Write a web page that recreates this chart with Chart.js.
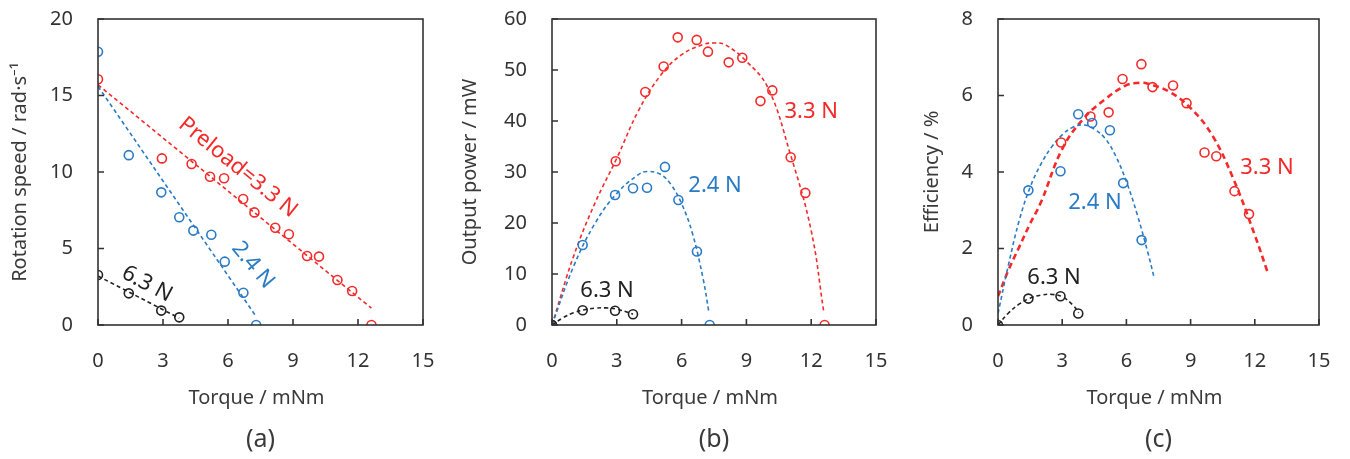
<!DOCTYPE html>
<html lang="en">
<head>
<meta charset="UTF-8">
<title>Torque characteristics</title>
<script src="https://cdn.jsdelivr.net/npm/chart.js"></script>
<style>
  body { margin: 0; background: #fff; }
  #wrap { position: relative; width: 1350px; height: 459px; }
  canvas { position: absolute; top: 0; }
</style>
</head>
<body>
<div id="wrap">
  <canvas id="chartA" width="450" height="459" style="left:0"></canvas>
  <canvas id="chartB" width="450" height="459" style="left:450px"></canvas>
  <canvas id="chartC" width="450" height="459" style="left:900px"></canvas>
</div>
<script>
// measured points (torque in mNm)
const torque33 = [0, 2.95, 4.32, 5.17, 5.82, 6.70, 7.22, 8.18, 8.81, 9.65, 10.2, 11.05, 11.73, 12.62];
const speed33  = [16.06, 10.89, 10.52, 9.69, 9.59, 8.24, 7.36, 6.36, 5.93, 4.51, 4.47, 2.94, 2.22, 0];
const power33  = [0, 32.1, 45.7, 50.7, 56.4, 55.9, 53.6, 51.5, 52.4, 43.9, 46.0, 32.9, 25.9, 0];
const eff33    = [null, 4.77, 5.45, 5.56, 6.43, 6.82, 6.22, 6.26, 5.8, 4.51, 4.41, 3.5, 2.9, null];

const torque24 = [0, 1.42, 2.92, 3.75, 4.40, 5.23, 5.85, 6.71, 7.30];
const speed24  = [17.86, 11.1, 8.67, 7.04, 6.17, 5.90, 4.14, 2.11, 0];
const power24  = [0, 15.7, 25.5, 26.8, 26.9, 31.0, 24.5, 14.4, 0];
const eff24    = [null, 3.52, 4.02, 5.51, 5.28, 5.09, 3.71, 2.22, null];

const torque63 = [0, 1.42, 2.92, 3.75];
const speed63  = [3.27, 2.07, 0.94, 0.50];
const power63  = [0, 2.9, 2.8, 2.1];
const eff63    = [0, 0.69, 0.75, 0.30];

// fitted curves
const fitSpeedX33 = [0, 12.62];
const fitSpeed33  = [15.7, 1.1];
const fitSpeedX24 = [0, 7.3];
const fitSpeed24  = [15.6, 0.55];
const fitSpeedX63 = [0, 3.75];
const fitSpeed63  = [3.2, 0.45];

const fitPowerX33 = [0, 1, 2, 3, 4, 5, 6, 7, 7.5, 8, 9, 10, 11, 12, 12.58];
const fitPower33  = [0, 13.5, 24, 32.7, 42, 48.8, 53, 55, 55.3, 55, 51.7, 46.5, 34, 18.5, 2.6];
const fitPowerX24 = [0, 1, 2, 3, 4, 4.4, 5, 5.5, 6, 6.5, 7, 7.26];
const fitPower24  = [0, 11.5, 20, 25.8, 29.5, 30.1, 29.6, 27.6, 23.8, 18, 9, 2.6];
const fitPowerX63 = [0, 0.5, 1, 1.5, 2, 2.5, 3, 3.5, 3.75];
const fitPower63  = [0, 1.4, 2.4, 3.0, 3.3, 3.35, 3.1, 2.5, 2.1];

const fitEffX33 = [0, 0.5, 1, 1.5, 2, 3, 4, 5, 6, 6.6, 7, 8, 9, 10, 11, 12, 12.58];
const fitEff33  = [0.75, 1.45, 2.05, 2.65, 3.2, 4.6, 5.4, 5.9, 6.27, 6.33, 6.31, 6.1, 5.67, 4.97, 3.82, 2.35, 1.41];
const fitEffX24 = [0, 0.5, 1, 1.5, 2, 2.5, 3, 3.5, 4, 4.5, 5, 5.5, 6, 6.5, 7, 7.3];
const fitEff24  = [0.3, 1.6, 2.75, 3.6, 4.2, 4.65, 4.97, 5.17, 5.23, 5.12, 4.88, 4.42, 3.75, 2.9, 1.9, 1.23];
const fitEffX63 = [0, 0.5, 1, 1.5, 2, 2.5, 3, 3.5, 3.77];
const fitEff63  = [0, 0.32, 0.55, 0.7, 0.78, 0.8, 0.74, 0.52, 0.32];

const torqueTicks = [0, 3, 6, 9, 12, 15];

const RED = '#f42a2a';
const BLUE = '#2a7bc6';
const BLACK = '#222222';
const AXIS = '#333333';

Chart.defaults.font.family = "'Noto Sans', sans-serif";

function pts(xs, ys) {
    return xs.map((x, i) => ({ x: x, y: ys[i] })).filter(p => p.y !== null);
}

function markers(xs, ys, color) {
    return {
        data: pts(xs, ys),
        showLine: false,
        pointStyle: 'circle',
        pointRadius: 4.5,
        pointBorderWidth: 1.6,
        pointBorderColor: color,
        pointBackgroundColor: 'rgba(0,0,0,0)'
    };
}

function fit(xs, ys, color, width, dash) {
    return {
        data: pts(xs, ys),
        showLine: true,
        pointRadius: 0,
        borderColor: color,
        borderWidth: width || 1.6,
        borderDash: dash || [4, 3],
        tension: 0.4,
        fill: false
    };
}

// box, inward ticks, titles and labels
const framePlugin = {
    id: 'frame',
    afterDraw(chart, args, opts) {
        const ctx = chart.ctx;
        const a = chart.chartArea;
        const xs = chart.scales.x, ys = chart.scales.y;
        ctx.save();
        ctx.strokeStyle = AXIS;
        ctx.lineWidth = 1.6;
        ctx.strokeRect(a.left, a.top, a.right - a.left, a.bottom - a.top);
        ctx.beginPath();
        xs.ticks.forEach(t => {
            const px = xs.getPixelForValue(t.value);
            ctx.moveTo(px, a.bottom);
            ctx.lineTo(px, a.bottom - 6);
        });
        ys.ticks.forEach(t => {
            const py = ys.getPixelForValue(t.value);
            ctx.moveTo(a.left, py);
            ctx.lineTo(a.left + 6, py);
        });
        ctx.stroke();

        ctx.fillStyle = '#3a3a3a';
        ctx.textAlign = 'center';
        ctx.textBaseline = 'middle';
        ctx.font = "20px 'Noto Sans', sans-serif";
        ctx.fillText(opts.xTitle, (a.left + a.right) / 2 - 4, 398);
        ctx.font = "25px 'Noto Sans', sans-serif";
        ctx.fillText(opts.panel, (a.left + a.right) / 2, 440);

        ctx.save();
        ctx.translate(opts.yTitleX, (a.top + a.bottom) / 2);
        ctx.rotate(-Math.PI / 2);
        ctx.font = "20px 'Noto Sans', sans-serif";
        ctx.fillText(opts.yTitle, 0, 0);
        ctx.restore();

        ctx.font = "22px 'Noto Sans', sans-serif";
        opts.notes.forEach(n => {
            ctx.save();
            ctx.translate(xs.getPixelForValue(n.x), ys.getPixelForValue(n.y));
            ctx.rotate((n.angle || 0) * Math.PI / 180);
            ctx.fillStyle = n.color;
            ctx.fillText(n.text, 0, 0);
            ctx.restore();
        });
        ctx.restore();
    }
};

function makeChart(id, datasets, yMax, yStep, plotLeft, plotRight, frame) {
    return new Chart(document.getElementById(id), {
        type: 'scatter',
        data: { datasets: datasets },
        plugins: [framePlugin],
        options: {
            responsive: false,
            animation: false,
            layout: { padding: { top: 19, right: 450 - plotRight, left: 0, bottom: 0 } },
            plugins: {
                legend: { display: false },
                tooltip: { enabled: false },
                frame: frame
            },
            scales: {
                x: {
                    type: 'linear', min: 0, max: 15,
                    afterBuildTicks: s => { s.ticks = torqueTicks.map(v => ({ value: v })); },
                    afterFit: s => { s.height = 134; s.paddingLeft = 0; s.paddingRight = 0; },
                    grid: { display: false, drawTicks: false },
                    border: { display: false },
                    ticks: { color: '#333', padding: 24, font: { size: 20 }, maxRotation: 0 }
                },
                y: {
                    type: 'linear', min: 0, max: yMax,
                    afterFit: s => { s.width = plotLeft; s.paddingTop = 0; s.paddingBottom = 0; },
                    grid: { display: false, drawTicks: false },
                    border: { display: false },
                    ticks: { stepSize: yStep, color: '#333', padding: 25, font: { size: 20 } }
                }
            }
        }
    });
}

makeChart('chartA', [
    markers(torque63, speed63, BLACK),
    markers(torque24, speed24, BLUE),
    markers(torque33, speed33, RED),
    fit(fitSpeedX63, fitSpeed63, BLACK),
    fit(fitSpeedX24, fitSpeed24, BLUE),
    fit(fitSpeedX33, fitSpeed33, RED)
], 20, 5, 98, 423, {
    xTitle: 'Torque / mNm', yTitle: 'Rotation speed / rad·s⁻¹', yTitleX: 20, panel: '(a)',
    notes: [
        { text: 'Preload=3.3 N', x: 6.46, y: 10.3, angle: 39, color: RED },
        { text: '2.4 N', x: 7.15, y: 3.92, angle: 50, color: BLUE },
        { text: '6.3 N', x: 2.26, y: 2.68, angle: 28, color: BLACK }
    ]
});

makeChart('chartB', [
    markers(torque63, power63, BLACK),
    markers(torque24, power24, BLUE),
    markers(torque33, power33, RED),
    fit(fitPowerX63, fitPower63, BLACK),
    fit(fitPowerX24, fitPower24, BLUE),
    fit(fitPowerX33, fitPower33, RED)
], 60, 10, 102, 426, {
    xTitle: 'Torque / mNm', yTitle: 'Output power / mW', yTitleX: 20, panel: '(b)',
    notes: [
        { text: '3.3 N', x: 12.0, y: 41.8, color: RED },
        { text: '2.4 N', x: 7.55, y: 27.3, color: BLUE },
        { text: '6.3 N', x: 2.55, y: 6.7, color: BLACK }
    ]
});

makeChart('chartC', [
    markers(torque63, eff63, BLACK),
    markers(torque24, eff24, BLUE),
    markers(torque33, eff33, RED),
    fit(fitEffX63, fitEff63, BLACK),
    fit(fitEffX24, fitEff24, BLUE),
    fit(fitEffX33, fitEff33, RED, 2.6, [6, 4])
], 8, 2, 98, 419, {
    xTitle: 'Torque / mNm', yTitle: 'Efficiency / %', yTitleX: 32, panel: '(c)',
    notes: [
        { text: '3.3 N', x: 12.57, y: 4.1, color: RED },
        { text: '2.4 N', x: 4.53, y: 3.19, color: BLUE },
        { text: '6.3 N', x: 2.62, y: 1.23, color: BLACK }
    ]
});
</script>
</body>
</html>
